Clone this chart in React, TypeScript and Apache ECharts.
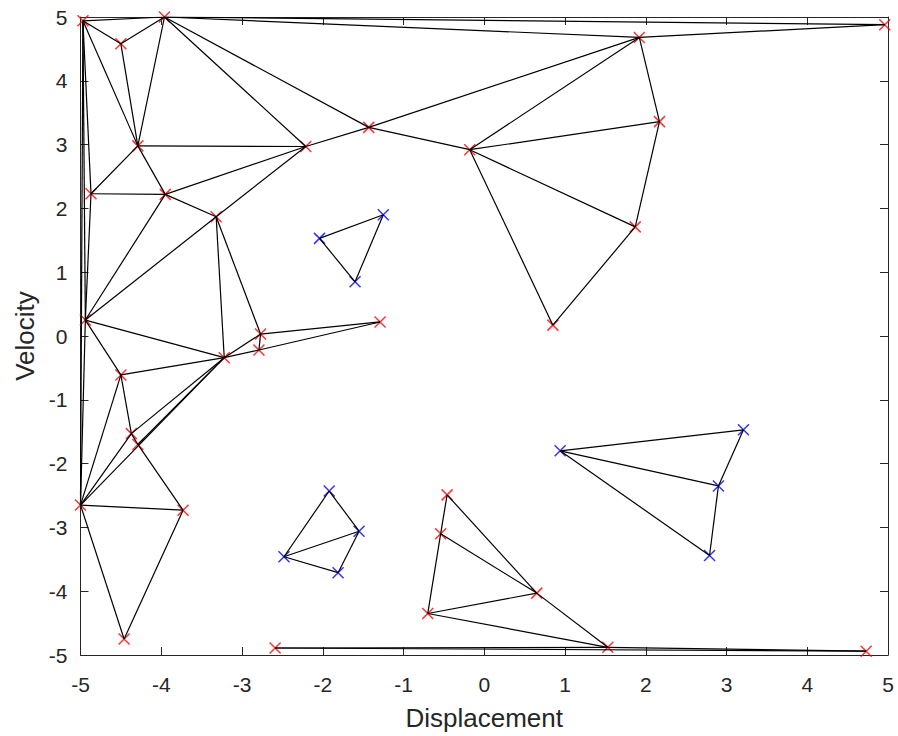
import React, { useEffect, useRef } from "react";
import * as echarts from "echarts";

// Red points (x, y)
const redX = [-4.97, -4.50, -3.96, -4.29, -2.21, -4.87, -3.95, -3.32, -4.94, -2.77, -2.79, -3.22, -4.50, -4.37, -4.29, -5.00, -3.73, -4.46, -2.59, -1.43, -0.18, 1.92, 4.96, 2.17, 1.87, 0.85, -1.29, -0.46, -0.54, 0.65, -0.70, 1.53, 4.73];
const redY = [4.94, 4.58, 5.00, 2.98, 2.97, 2.23, 2.22, 1.87, 0.25, 0.03, -0.22, -0.34, -0.61, -1.53, -1.70, -2.65, -2.73, -4.75, -4.89, 3.27, 2.92, 4.68, 4.88, 3.36, 1.71, 0.17, 0.22, -2.49, -3.10, -4.03, -4.35, -4.88, -4.94];

// Blue points (x, y)
const blueX = [-2.04, -1.25, -1.60, -1.92, -1.55, -2.48, -1.81, 0.94, 3.21, 2.90, 2.79];
const blueY = [1.53, 1.90, 0.85, -2.43, -3.06, -3.46, -3.71, -1.80, -1.47, -2.35, -3.44];

// Triangulation edges (index pairs)
const redEdges: [number, number][] = [
  [0, 2], [0, 1], [1, 2], [1, 3], [0, 3], [2, 3], [2, 4], [2, 19], [2, 21], [2, 22], [21, 22],
  [3, 4], [3, 5], [3, 6], [5, 6], [6, 4], [6, 7], [7, 4], [4, 19], [19, 20], [19, 21], [20, 21],
  [20, 23], [21, 23], [20, 24], [23, 24], [20, 25], [24, 25],
  [0, 5], [5, 8], [0, 8], [0, 15], [8, 15], [8, 6], [8, 7], [8, 11], [8, 12], [7, 11], [7, 9],
  [9, 10], [9, 11], [10, 11], [9, 26], [10, 26], [12, 11], [12, 13], [12, 15], [15, 13], [13, 11],
  [15, 11], [14, 11], [13, 14], [14, 16], [15, 16], [15, 17], [16, 17],
  [18, 31], [31, 32], [18, 32],
  [27, 28], [28, 30], [27, 29], [28, 29], [30, 29], [30, 31], [29, 31],
];
const blueEdges: [number, number][] = [
  [0, 1], [0, 2], [1, 2],
  [3, 4], [3, 5], [4, 5], [4, 6], [5, 6],
  [7, 8], [7, 9], [7, 10], [8, 9], [9, 10],
];

const xTicksMin = -5;
const xTicksMax = 5;
const yTicksMin = -5;
const yTicksMax = 5;

export default function App() {
  const ref = useRef<HTMLDivElement>(null);
  useEffect(() => {
    document.body.style.margin = "0";
    if (!ref.current) return;
    const chart = echarts.init(ref.current, undefined, { renderer: "svg" });
    const font = "'Liberation Sans', Arial, sans-serif";
    const axisColor = "#262626";
    const edgeData = [
      ...redEdges.map(([a, b]) => ({ coords: [[redX[a], redY[a]], [redX[b], redY[b]]] })),
      ...blueEdges.map(([a, b]) => ({ coords: [[blueX[a], blueY[a]], [blueX[b], blueY[b]]] })),
    ];
    const xSymbol = "path://M0,0L10,10M10,0L0,10";
    const baseAxis = {
      type: "value" as const,
      interval: 1,
      axisLine: { show: true, onZero: false, lineStyle: { color: axisColor, width: 1 } },
      axisTick: { show: true, inside: true, length: 8, lineStyle: { color: axisColor, width: 1 } },
      splitLine: { show: false },
    };
    chart.setOption({
      animation: false,
      backgroundColor: "#ffffff",
      grid: { left: 80.5, right: 10, top: 17, bottom: 81, containLabel: false },
      xAxis: [
        {
          ...baseAxis,
          min: xTicksMin,
          max: xTicksMax,
          position: "bottom",
          name: "Displacement",
          nameLocation: "middle",
          nameGap: 50,
          nameTextStyle: { fontFamily: font, fontSize: 26, color: axisColor },
          axisLabel: { fontFamily: font, fontSize: 21, color: axisColor, margin: 19 },
        },
        {
          ...baseAxis,
          min: xTicksMin,
          max: xTicksMax,
          position: "top",
          axisLabel: { show: false },
        },
      ],
      yAxis: [
        {
          ...baseAxis,
          min: yTicksMin,
          max: yTicksMax,
          position: "left",
          name: "Velocity",
          nameLocation: "middle",
          nameGap: 42,
          nameTextStyle: { fontFamily: font, fontSize: 26, color: axisColor },
          axisLabel: { fontFamily: font, fontSize: 21, color: axisColor, margin: 13 },
        },
        {
          ...baseAxis,
          min: yTicksMin,
          max: yTicksMax,
          position: "right",
          axisLabel: { show: false },
        },
      ],
      series: [
        {
          type: "scatter",
          xAxisIndex: 0,
          yAxisIndex: 0,
          symbol: xSymbol,
          symbolSize: 11,
          itemStyle: { color: "none", borderColor: "#ff0000", borderWidth: 1.5 },
          data: redX.map((x, i) => [x, redY[i]]),
          z: 2,
        },
        {
          type: "scatter",
          xAxisIndex: 0,
          yAxisIndex: 0,
          symbol: xSymbol,
          symbolSize: 11,
          itemStyle: { color: "none", borderColor: "#0000ff", borderWidth: 1.5 },
          data: blueX.map((x, i) => [x, blueY[i]]),
          z: 2,
        },
        {
          type: "lines",
          coordinateSystem: "cartesian2d",
          xAxisIndex: 0,
          yAxisIndex: 0,
          lineStyle: { color: "#000000", width: 1.2, opacity: 1 },
          data: edgeData,
          z: 3,
        },
      ],
    });
    return () => chart.dispose();
  }, []);
  return <div ref={ref} style={{ width: 898, height: 736 }} />;
}
